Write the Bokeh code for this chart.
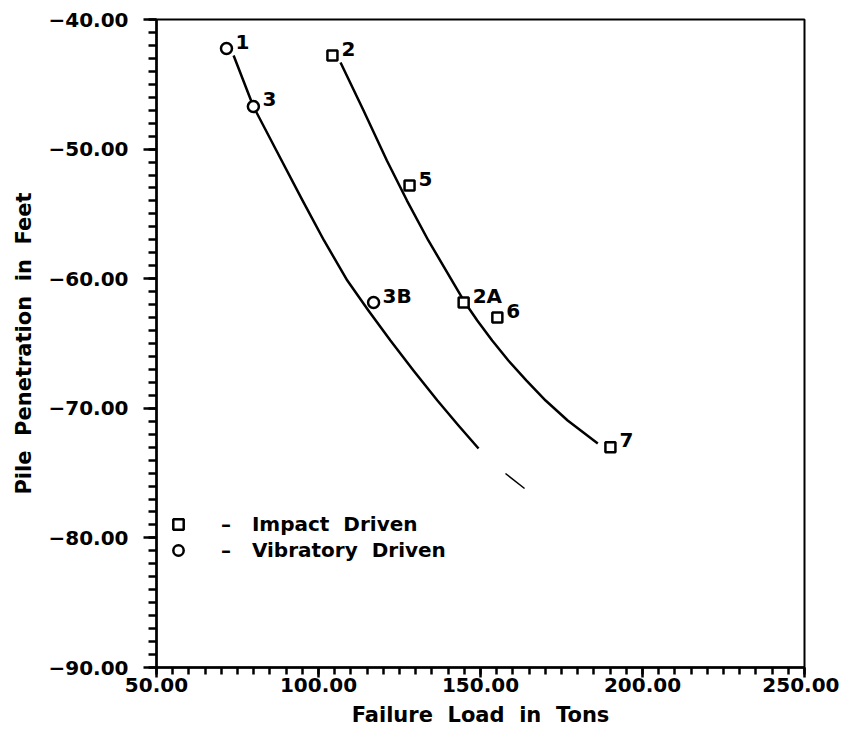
from bokeh.plotting import figure
from bokeh.models import Range1d, CustomJSTickFormatter, FixedTicker, ColumnDataSource, Legend, LegendItem
from bokeh.core.properties import value
from bokeh.embed import file_html
from bokeh.resources import INLINE

# ---- data ----
vib_labels = ["1", "3", "3B"]
vib_load = [71.6, 79.9, 117.0]
vib_depth = [-42.24, -46.71, -61.84]

imp_labels = ["2", "5", "2A", "6", "7"]
imp_load = [104.3, 128.1, 144.8, 155.2, 190.1]
imp_depth = [-42.78, -52.81, -61.84, -63.0, -73.0]

vib_curve_x = [73.8, 79.9, 87.0, 95.1, 101.7, 108.9, 115.4, 122.2, 129.3, 136.7, 143.2, 149.4]
vib_curve_y = [-42.78, -46.71, -50.11, -53.97, -57.05, -60.14, -62.45, -64.77, -67.08, -69.40, -71.33, -73.10]
vib_tail_x = [157.7, 163.6]
vib_tail_y = [-75.03, -76.19]

imp_curve_x = [106.8, 113.9, 121.1, 127.3, 133.9, 141.2, 145.2, 149.0, 153.6, 158.6, 164.2, 170.1, 176.9, 186.2]
imp_curve_y = [-43.32, -47.02, -50.88, -53.97, -57.05, -60.14, -61.84, -63.23, -64.77, -66.31, -67.86, -69.40, -70.94, -72.72]

x_ticks = [50, 100, 150, 200, 250]
y_ticks = [-90, -80, -70, -60, -50, -40]

FONT = "DejaVu Sans"
NB = "\u00a0"

p = figure(frame_width=648, frame_height=648,
           min_border_left=156, min_border_top=19, min_border_right=35, min_border_bottom=50,
           x_range=Range1d(50, 250), y_range=Range1d(-90, -40),
           output_backend="svg", toolbar_location=None)
p.grid.visible = False
p.outline_line_color = "black"
p.outline_line_width = 2
p.background_fill_color = "white"

fmt = CustomJSTickFormatter(code="return tick.toFixed(2).replace('-', '\u2212');")
for ax in (p.xaxis[0], p.yaxis[0]):
    ax.formatter = fmt
    ax.axis_line_width = 2.5
    ax.major_tick_line_width = 2.5
    ax.minor_tick_line_width = 2.5
    ax.major_tick_in = 0
    ax.minor_tick_in = 0
    ax.major_label_text_font = FONT
    ax.major_label_text_font_style = "bold"
    ax.major_label_text_font_size = "20px"
    ax.major_label_text_color = "black"
    ax.axis_label_text_font = FONT
    ax.axis_label_text_font_style = "bold"
    ax.axis_label_text_font_size = "21px"
    ax.axis_label_text_color = "black"

p.xaxis[0].ticker = FixedTicker(ticks=x_ticks, minor_ticks=list(range(50, 251, 5)))
p.yaxis[0].ticker = FixedTicker(ticks=y_ticks, minor_ticks=list(range(-90, -39, 1)))
p.xaxis[0].major_tick_out = 10
p.xaxis[0].minor_tick_out = 7
p.yaxis[0].major_tick_out = 13
p.yaxis[0].minor_tick_out = 8
p.xaxis[0].major_label_standoff = 0
p.yaxis[0].major_label_standoff = 15
p.xaxis[0].axis_label = "Failure" + NB + " Load" + NB + " in" + NB + " Tons"
p.yaxis[0].axis_label = "Pile" + NB + " Penetration" + NB + " in" + NB + " Feet"
p.xaxis[0].axis_label_standoff = 8
p.yaxis[0].axis_label_standoff = 9

# curves
p.line(vib_curve_x, vib_curve_y, line_color="black", line_width=2.5, line_join="round")
p.line(vib_tail_x, vib_tail_y, line_color="black", line_width=1.5)
p.line(imp_curve_x, imp_curve_y, line_color="black", line_width=2.5, line_join="round")

# points
vsrc = ColumnDataSource(dict(x=vib_load, y=vib_depth, t=vib_labels))
isrc = ColumnDataSource(dict(x=imp_load, y=imp_depth, t=imp_labels))
r_imp = p.scatter("x", "y", source=isrc, marker="square", size=10, fill_color="white",
                  line_color="black", line_width=2.5)
r_vib = p.scatter("x", "y", source=vsrc, marker="circle", size=11, fill_color="white",
                  line_color="black", line_width=2.5)
for src in (vsrc, isrc):
    p.text("x", "y", text="t", source=src, x_offset=9, y_offset=-7,
           text_align="left", text_baseline="middle",
           text_font=value(FONT), text_font_style="bold", text_font_size="20px",
           text_color="black")

legend = Legend(items=[LegendItem(label="\u2013" + NB * 3 + "Impact" + NB + " Driven", renderers=[r_imp]),
                       LegendItem(label="\u2013" + NB * 3 + "Vibratory" + NB + " Driven", renderers=[r_vib])],
                location=(9, 104), orientation="vertical")
legend.background_fill_alpha = 0
legend.border_line_alpha = 0
legend.label_text_font = FONT
legend.label_text_font_style = "bold"
legend.label_text_font_size = "20px"
legend.label_text_color = "black"
legend.glyph_width = 26
legend.glyph_height = 26
legend.label_height = 24
legend.label_standoff = 30
legend.spacing = -2
legend.padding = 0
legend.margin = 0
p.add_layout(legend)

open("out.html", "w").write(file_html(p, INLINE))
